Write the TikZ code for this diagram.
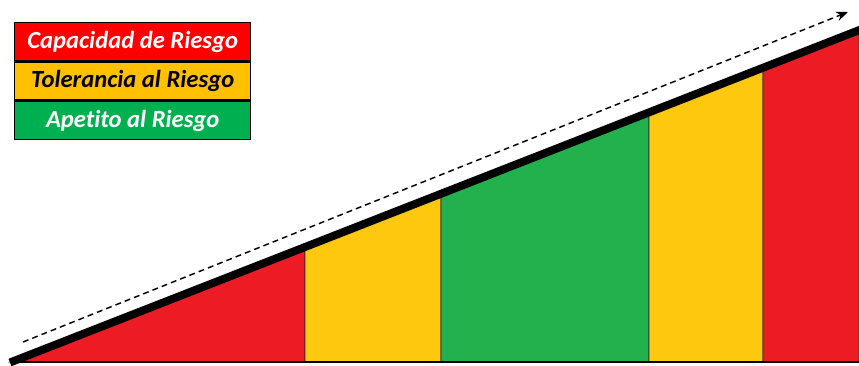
\documentclass[tikz,border=0pt]{standalone}
\usepackage{fontspec}
\setmainfont{Carlito}[Ligatures={NoCommon}]
\usetikzlibrary{positioning, arrows.meta}

\definecolor{rojo}{HTML}{ED1C24}
\definecolor{amarillo}{HTML}{FEC80F}
\definecolor{verde}{HTML}{22B14C}
\definecolor{rojoley}{HTML}{FF0000}
\definecolor{amarilloley}{HTML}{FFC000}
\definecolor{verdeley}{HTML}{00B050}

\tikzset{
  leyenda/.style={draw=black, line width=1.2pt, rectangle, minimum width=7.08cm, minimum height=1.14cm,
    inner sep=0pt, font=\fontsize{21}{22}\selectfont\bfseries\itshape},
  zona/.style={draw=black!85, line width=0.8pt}
}

\begin{document}
\begin{tikzpicture}[x=0.03cm, y=-0.03cm, >=Stealth]
  \useasboundingbox (0,0) rectangle (859,366);

  % zonas bajo la pendiente
  \filldraw[zona, fill=rojo] (10,362) -- (305,246.7) -- (305,362) -- cycle;
  \filldraw[zona, fill=amarillo] (305,362) -- (305,246.7) -- (441,193.5) -- (441,362) -- cycle;
  \filldraw[zona, fill=verde] (441,362) -- (441,193.5) -- (649,112.2) -- (649,362) -- cycle;
  \filldraw[zona, fill=amarillo] (649,362) -- (649,112.2) -- (763,67.6) -- (763,362) -- cycle;
  \filldraw[zona, fill=rojo] (763,362) -- (763,67.6) -- (859,30) -- (859,362) -- cycle;

  % ejes
  \coordinate (origen) at (10,362.5);
  \coordinate (fin) at (862,29);
  \coordinate (base) at (859,362);
  \draw[line width=6.8pt] (origen) -- (fin);
  \draw[line width=2.4pt] (10,362) -- (base);

  % flecha de tendencia
  \coordinate (inicio) at (23,342);
  \coordinate (punta) at (848,12);
  \draw[->, line width=1.2pt, dash pattern=on 5pt off 3.5pt,
    arrows={-Stealth[length=10pt, width=8pt]}] (inicio) -- (punta);

  % leyenda
  \node (capacidad) [leyenda, fill=rojoley, text=white, anchor=north west] at (14,22) {Capacidad de Riesgo};
  \node (tolerancia) [leyenda, fill=amarilloley, text=black, below=0pt of capacidad] {Tolerancia al Riesgo};
  \node (apetito) [leyenda, fill=verdeley, text=white, below=0pt of tolerancia] {Apetito al Riesgo};
\end{tikzpicture}
\end{document}
